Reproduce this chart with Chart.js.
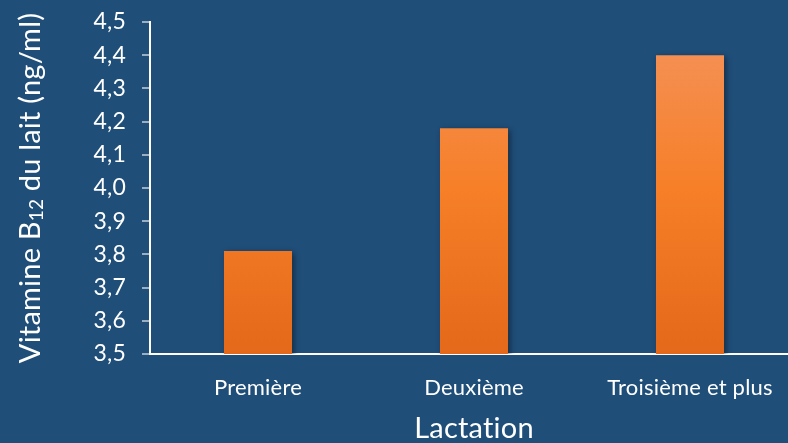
<!DOCTYPE html>
<html>
<head>
<meta charset="utf-8">
<script src="https://cdn.jsdelivr.net/npm/chart.js@4/dist/chart.umd.min.js"></script>
<style>
    html, body { margin: 0; padding: 0; background: #1f4e79; overflow: hidden; }
    #wrap { width: 798px; height: 443px; position: relative; }
</style>
</head>
<body>
<div id="wrap"><canvas id="chart"></canvas></div>
<script>
// Lactation groups and milk B12 values (ng/ml)
const lactations = ['Première', 'Deuxième', 'Troisième et plus'];
const b12Values = [3.81, 4.18, 4.40];
const yTicks = [3.5, 3.6, 3.7, 3.8, 3.9, 4.0, 4.1, 4.2, 4.3, 4.4, 4.5];

const FONT = 'Lato, "Open Sans", sans-serif';

// Orange vertical gradient for the bars
function barGradient(context) {
    const chart = context.chart;
    const area = chart.chartArea;
    if (!area) return '#f58025';
    const g = chart.ctx.createLinearGradient(0, area.top, 0, area.bottom);
    g.addColorStop(0, '#f4935c');
    g.addColorStop(0.5, '#f67f28');
    g.addColorStop(1, '#e4691a');
    return g;
}

// Plain glyphs, no ligatures
const plainText = {
    id: 'plainText',
    beforeDraw(chart) {
        chart.ctx.textRendering = 'optimizeSpeed';
        chart.ctx.letterSpacing = '0.2px';
    }
};

// Soft shadow behind the bars
const barShadow = {
    id: 'barShadow',
    beforeDatasetsDraw(chart) {
        const ctx = chart.ctx;
        ctx.save();
        ctx.shadowColor = 'rgba(0, 0, 0, 0.45)';
        ctx.shadowBlur = 6;
        ctx.shadowOffsetX = 2;
        ctx.shadowOffsetY = 2;
    },
    afterDatasetsDraw(chart) {
        chart.ctx.restore();
    }
};

// Vertical y title with a subscript "12"
const yTitle = {
    id: 'yTitle',
    afterDraw(chart) {
        const ctx = chart.ctx;
        const area = chart.chartArea;
        const parts = [
            { text: 'Vitamine B', size: 29, dy: 0 },
            { text: '12', size: 19, dy: 6 },
            { text: ' du lait (ng/ml)', size: 29, dy: 0 }
        ];
        let total = 0;
        parts.forEach(p => {
            ctx.font = p.size + 'px ' + FONT;
            p.w = ctx.measureText(p.text).width;
            total += p.w;
        });
        ctx.save();
        ctx.translate(31, (area.top + area.bottom) / 2);
        ctx.rotate(-Math.PI / 2);
        ctx.fillStyle = '#ffffff';
        ctx.textBaseline = 'middle';
        ctx.textAlign = 'left';
        let x = -total / 2;
        parts.forEach(p => {
            ctx.font = p.size + 'px ' + FONT;
            ctx.fillText(p.text, x, p.dy);
            x += p.w;
        });
        ctx.restore();
    }
};

new Chart(document.getElementById('chart'), {
    type: 'bar',
    data: {
        labels: lactations,
        datasets: [{
            data: b12Values,
            backgroundColor: barGradient,
            borderWidth: 0,
            categoryPercentage: 1.0,
            barPercentage: 0.315
        }]
    },
    options: {
        responsive: true,
        maintainAspectRatio: false,
        animation: false,
        layout: { padding: { top: 22, right: 0, bottom: 0, left: 0 } },
        plugins: {
            legend: { display: false },
            tooltip: { enabled: false }
        },
        scales: {
            x: {
                grid: { display: false },
                border: { color: '#ffffff', width: 2 },
                ticks: {
                    color: '#ffffff',
                    font: { family: FONT, size: 22 },
                    padding: 13
                },
                title: {
                    display: true,
                    text: 'Lactation',
                    color: '#ffffff',
                    font: { family: FONT, size: 29 },
                    padding: { top: 2, bottom: -3 }
                },
                afterFit(scale) {
                    scale.height = 89;
                    scale.paddingLeft = 0;
                    scale.paddingRight = 0;
                }
            },
            y: {
                min: 3.5,
                max: 4.5,
                afterBuildTicks(scale) {
                    scale.ticks = yTicks.map(v => ({ value: v }));
                },
                grid: {
                    drawOnChartArea: false,
                    drawTicks: true,
                    tickLength: 8,
                    color: 'rgba(255,255,255,0.55)',
                    lineWidth: 2
                },
                border: { color: '#ffffff', width: 2 },
                ticks: {
                    color: '#ffffff',
                    font: { family: FONT, size: 23 },
                    padding: 16,
                    callback: v => v.toFixed(1).replace('.', ',')
                },
                afterFit(scale) {
                    scale.width = 150;
                    scale.paddingTop = 0;
                    scale.paddingBottom = 0;
                }
            }
        }
    },
    plugins: [plainText, barShadow, yTitle]
});
</script>
</body>
</html>
